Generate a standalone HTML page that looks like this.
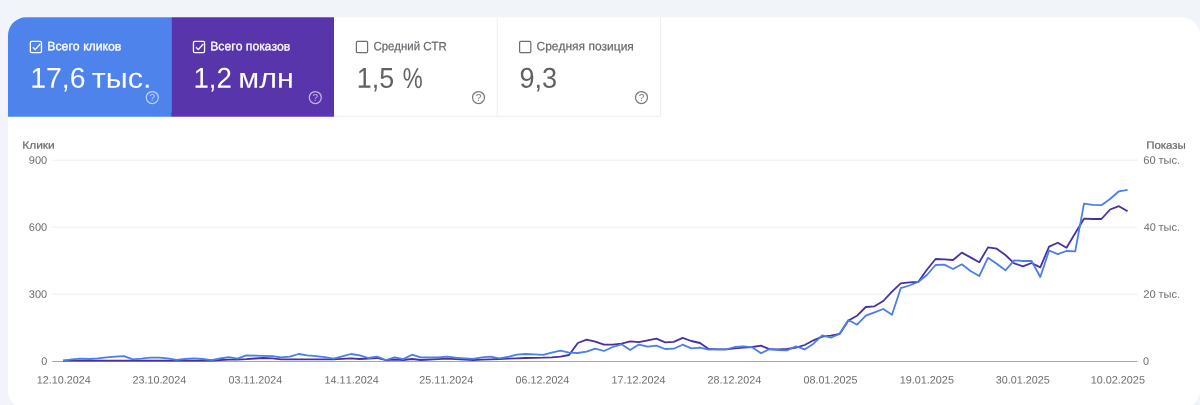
<!DOCTYPE html>
<html lang="ru"><head><meta charset="utf-8"><title>Эффективность</title>
<style>
html,body{margin:0;padding:0;background:#f1f4f8;overflow:hidden}
body{width:1200px;height:405px;position:relative;font-family:"Liberation Sans",sans-serif}
svg{position:absolute;left:0;top:0;display:block}
text{font-family:"Liberation Sans",sans-serif;font-kerning:none}
</style></head><body>
<svg width="1200" height="405" viewBox="0 0 1200 405">
<defs><clipPath id="card"><path d="M26,17.3 H1180.5 A20,20 0 0 1 1200.5,37.3 V388.5 A20,20 0 0 1 1180.5,408.5 H26 A18,18 0 0 1 8,390.5 V35.3 A18,18 0 0 1 26,17.3 Z"/></clipPath></defs>
<rect x="0" y="0" width="1200" height="405" fill="#f1f4f8"/>
<rect x="0" y="0" width="8" height="405" fill="#f3f4fb"/>
<path d="M26,17.3 H1180.5 A20,20 0 0 1 1200.5,37.3 V388.5 A20,20 0 0 1 1180.5,408.5 H26 A18,18 0 0 1 8,390.5 V35.3 A18,18 0 0 1 26,17.3 Z" fill="#ffffff"/>
<g clip-path="url(#card)">
<rect x="8" y="17" width="163.3" height="99.5" fill="#4f83ec"/>
<rect x="171.3" y="17" width="162.7" height="99.5" fill="#5835ab"/>
<rect x="8" y="112.8" width="163.3" height="3.7" fill="#4784f4"/>
<rect x="171.3" y="112.8" width="162.7" height="3.7" fill="#5a34bd"/>
</g>
<path d="M497.2,17.5 V116.3 M660.5,17.5 V116.3 M334,116.3 H660.9" fill="none" stroke="#eeeeee" stroke-width="1"/>

<rect x="30.35" y="41.45" width="11.10" height="11.10" rx="1.3" fill="none" stroke="#ffffff" stroke-width="1.3"/><path d="M32.90,47.30 l2.3,2.3 l5.0,-5.6" fill="none" stroke="#ffffff" stroke-width="1.25"/>
<rect x="193.45" y="41.45" width="11.10" height="11.10" rx="1.3" fill="none" stroke="#ffffff" stroke-width="1.3"/><path d="M196.00,47.30 l2.3,2.3 l5.0,-5.6" fill="none" stroke="#ffffff" stroke-width="1.25"/>
<rect x="356.40" y="41.40" width="11.20" height="11.20" rx="1.0" fill="none" stroke="#6e6e6e" stroke-width="1.2"/>
<rect x="519.60" y="41.40" width="11.20" height="11.20" rx="1.0" fill="none" stroke="#6e6e6e" stroke-width="1.2"/>
<text x="47.19" y="50.35" font-size="12.2" fill="#ffffff" textLength="74.14" lengthAdjust="spacingAndGlyphs" stroke="#ffffff" stroke-width="0.3" transform="rotate(0.03 47.19 50.35)">Всего кликов</text>
<text x="210.20" y="50.35" font-size="12.2" fill="#ffffff" textLength="80.08" lengthAdjust="spacingAndGlyphs" stroke="#ffffff" stroke-width="0.3" transform="rotate(0.03 210.20 50.35)">Всего показов</text>
<text x="373.42" y="50.35" font-size="12.2" fill="#64686c" textLength="73.36" lengthAdjust="spacingAndGlyphs" stroke="#64686c" stroke-width="0.22" transform="rotate(0.03 373.42 50.35)">Средний CTR</text>
<text x="536.49" y="50.35" font-size="12.2" fill="#64686c" textLength="97.34" lengthAdjust="spacingAndGlyphs" stroke="#64686c" stroke-width="0.22" transform="rotate(0.03 536.49 50.35)">Средняя позиция</text>
<text y="87.75" fill="#ffffff" transform="rotate(0.03 30.24 87.75)"><tspan x="30.24" font-size="28.7" textLength="55.31" lengthAdjust="spacingAndGlyphs">17,6</tspan> <tspan x="91.88" font-size="28.0" textLength="59.61" lengthAdjust="spacingAndGlyphs">тыс.</tspan></text>
<text y="87.75" fill="#ffffff" transform="rotate(0.03 193.39 87.75)"><tspan x="193.39" font-size="28.7" textLength="38.50" lengthAdjust="spacingAndGlyphs">1,2</tspan> <tspan x="238.39" font-size="28.0" textLength="55.41" lengthAdjust="spacingAndGlyphs">млн</tspan></text>
<text y="87.75" fill="#616161" transform="rotate(0.03 356.75 87.75)"><tspan x="356.75" font-size="28.7" textLength="37.38" lengthAdjust="spacingAndGlyphs">1,5</tspan> <tspan x="402.70" font-size="28.7" textLength="19.90" lengthAdjust="spacingAndGlyphs">%</tspan></text>
<text x="519.53" y="87.75" font-size="28.7" fill="#616161" textLength="37.66" lengthAdjust="spacingAndGlyphs" transform="rotate(0.03 519.53 87.75)">9,3</text>
<circle cx="152.3" cy="97.5" r="6.0" fill="none" stroke="#bcd0f8" stroke-width="1.25"/><text x="152.3" y="101.1" font-size="10" text-anchor="middle" fill="#bcd0f8" transform="rotate(0.03 152.3 97.5)">?</text>
<circle cx="315.3" cy="97.5" r="6.0" fill="none" stroke="#c3b5e6" stroke-width="1.25"/><text x="315.3" y="101.1" font-size="10" text-anchor="middle" fill="#c3b5e6" transform="rotate(0.03 315.3 97.5)">?</text>
<circle cx="478.5" cy="97.5" r="6.0" fill="none" stroke="#7a7a7a" stroke-width="1.25"/><text x="478.5" y="101.1" font-size="10" text-anchor="middle" fill="#7a7a7a" transform="rotate(0.03 478.5 97.5)">?</text>
<circle cx="641.5" cy="97.5" r="6.0" fill="none" stroke="#7a7a7a" stroke-width="1.25"/><text x="641.5" y="101.1" font-size="10" text-anchor="middle" fill="#7a7a7a" transform="rotate(0.03 641.5 97.5)">?</text>
<path d="M52.2,160.2 H1137.5" stroke="#eeeeee" stroke-width="1" fill="none"/>
<path d="M52.2,227.2 H1137.5" stroke="#eeeeee" stroke-width="1" fill="none"/>
<path d="M52.2,294.2 H1137.5" stroke="#eeeeee" stroke-width="1" fill="none"/>
<path d="M52.2,361.5 H1137.5" stroke="#a6a6a6" stroke-width="1" fill="none"/>
<text x="22.22" y="148.80" font-size="10.6" fill="#666a6e" textLength="32.51" lengthAdjust="spacingAndGlyphs" stroke="#666a6e" stroke-width="0.2" transform="rotate(0.03 22.22 148.80)">Клики</text>
<text x="1146.17" y="148.80" font-size="10.6" fill="#666a6e" textLength="39.73" lengthAdjust="spacingAndGlyphs" stroke="#666a6e" stroke-width="0.2" transform="rotate(0.03 1146.17 148.80)">Показы</text>
<text x="28.78" y="163.70" font-size="10.7" fill="#6e6e6e" textLength="18.45" lengthAdjust="spacingAndGlyphs" transform="rotate(0.03 28.78 163.70)">900</text>
<text x="28.74" y="230.70" font-size="10.7" fill="#6e6e6e" textLength="18.50" lengthAdjust="spacingAndGlyphs" transform="rotate(0.03 28.74 230.70)">600</text>
<text x="28.88" y="297.70" font-size="10.7" fill="#6e6e6e" textLength="18.35" lengthAdjust="spacingAndGlyphs" transform="rotate(0.03 28.88 297.70)">300</text>
<text x="41.38" y="364.70" font-size="10.7" fill="#6e6e6e" textLength="6.05" lengthAdjust="spacingAndGlyphs" transform="rotate(0.03 41.38 364.70)">0</text>
<text y="163.70" fill="#6e6e6e" transform="rotate(0.03 1143.33 163.70)"><tspan x="1143.33" font-size="10.7" textLength="12.51" lengthAdjust="spacingAndGlyphs">60</tspan> <tspan x="1158.41" font-size="10.5" textLength="21.70" lengthAdjust="spacingAndGlyphs">тыс.</tspan></text>
<text y="230.70" fill="#6e6e6e" transform="rotate(0.03 1143.65 230.70)"><tspan x="1143.65" font-size="10.7" textLength="12.18" lengthAdjust="spacingAndGlyphs">40</tspan> <tspan x="1158.41" font-size="10.5" textLength="21.70" lengthAdjust="spacingAndGlyphs">тыс.</tspan></text>
<text y="297.70" fill="#6e6e6e" transform="rotate(0.03 1143.33 297.70)"><tspan x="1143.33" font-size="10.7" textLength="12.50" lengthAdjust="spacingAndGlyphs">20</tspan> <tspan x="1158.41" font-size="10.5" textLength="21.70" lengthAdjust="spacingAndGlyphs">тыс.</tspan></text>
<text x="1143.08" y="364.70" font-size="10.7" fill="#6e6e6e" textLength="6.05" lengthAdjust="spacingAndGlyphs" transform="rotate(0.03 1143.08 364.70)">0</text>
<text x="36.68" y="383.60" font-size="10.7" fill="#6e6e6e" textLength="54.14" lengthAdjust="spacingAndGlyphs" transform="rotate(0.03 36.68 383.60)">12.10.2024</text>
<text x="132.46" y="383.60" font-size="10.7" fill="#6e6e6e" textLength="53.86" lengthAdjust="spacingAndGlyphs" transform="rotate(0.03 132.46 383.60)">23.10.2024</text>
<text x="228.48" y="383.60" font-size="10.7" fill="#6e6e6e" textLength="53.73" lengthAdjust="spacingAndGlyphs" transform="rotate(0.03 228.48 383.60)">03.11.2024</text>
<text x="324.58" y="383.60" font-size="10.7" fill="#6e6e6e" textLength="54.14" lengthAdjust="spacingAndGlyphs" transform="rotate(0.03 324.58 383.60)">14.11.2024</text>
<text x="419.36" y="383.60" font-size="10.7" fill="#6e6e6e" textLength="53.86" lengthAdjust="spacingAndGlyphs" transform="rotate(0.03 419.36 383.60)">25.11.2024</text>
<text x="515.58" y="383.60" font-size="10.7" fill="#6e6e6e" textLength="53.73" lengthAdjust="spacingAndGlyphs" transform="rotate(0.03 515.58 383.60)">06.12.2024</text>
<text x="611.48" y="383.60" font-size="10.7" fill="#6e6e6e" textLength="54.14" lengthAdjust="spacingAndGlyphs" transform="rotate(0.03 611.48 383.60)">17.12.2024</text>
<text x="707.46" y="383.60" font-size="10.7" fill="#6e6e6e" textLength="53.86" lengthAdjust="spacingAndGlyphs" transform="rotate(0.03 707.46 383.60)">28.12.2024</text>
<text x="803.58" y="383.60" font-size="10.7" fill="#6e6e6e" textLength="53.87" lengthAdjust="spacingAndGlyphs" transform="rotate(0.03 803.58 383.60)">08.01.2025</text>
<text x="899.67" y="383.60" font-size="10.7" fill="#6e6e6e" textLength="54.28" lengthAdjust="spacingAndGlyphs" transform="rotate(0.03 899.67 383.60)">19.01.2025</text>
<text x="995.89" y="383.60" font-size="10.7" fill="#6e6e6e" textLength="53.86" lengthAdjust="spacingAndGlyphs" transform="rotate(0.03 995.89 383.60)">30.01.2025</text>
<text x="1090.67" y="383.60" font-size="10.7" fill="#6e6e6e" textLength="54.28" lengthAdjust="spacingAndGlyphs" transform="rotate(0.03 1090.67 383.60)">10.02.2025</text>
<path d="M63.0,360.6 L71.7,360.6 L80.5,360.6 L89.2,360.6 L97.9,360.6 L106.6,360.6 L115.4,360.6 L124.1,360.6 L132.8,360.6 L141.5,360.6 L150.3,360.6 L159.0,360.6 L167.7,360.6 L176.4,360.6 L185.2,360.6 L193.9,360.6 L202.6,360.6 L211.3,360.6 L220.1,360.0 L228.8,359.7 L237.5,359.5 L246.3,359.2 L255.0,358.5 L263.7,358.0 L272.4,358.3 L281.2,359.3 L289.9,359.3 L298.6,359.3 L307.3,359.3 L316.1,359.3 L324.8,359.3 L333.5,359.3 L342.2,358.8 L351.0,358.4 L359.7,359.0 L368.4,358.5 L377.1,358.0 L385.9,360.2 L394.6,359.5 L403.3,360.0 L412.0,359.0 L420.8,360.0 L429.5,359.6 L438.2,359.2 L447.0,358.7 L455.7,359.2 L464.4,359.6 L473.1,360.0 L481.9,359.7 L490.6,359.3 L499.3,359.0 L508.0,358.7 L516.8,358.3 L525.5,358.0 L534.2,357.8 L542.9,357.7 L551.7,357.4 L560.4,356.6 L569.1,355.0 L577.8,343.0 L586.6,339.7 L595.3,341.7 L604.0,344.7 L612.8,344.7 L621.5,343.7 L630.2,341.4 L638.9,342.1 L647.7,340.3 L656.4,338.7 L665.1,342.3 L673.8,341.9 L682.6,337.9 L691.3,341.0 L700.0,343.0 L708.7,348.9 L717.5,349.4 L726.2,349.4 L734.9,348.3 L743.6,347.7 L752.4,347.0 L761.1,345.7 L769.8,349.4 L778.6,349.4 L787.3,349.0 L796.0,347.7 L804.7,345.0 L813.5,340.3 L822.2,336.7 L830.9,335.7 L839.6,334.0 L848.4,320.5 L857.1,315.7 L865.8,307.0 L874.5,306.3 L883.3,301.0 L892.0,291.7 L900.7,283.3 L909.4,282.3 L918.2,282.0 L926.9,269.7 L935.6,259.0 L944.3,259.4 L953.1,260.0 L961.8,252.6 L970.5,257.4 L979.3,262.3 L988.0,247.4 L996.7,248.7 L1005.4,255.0 L1014.2,263.3 L1022.9,266.3 L1031.6,263.0 L1040.3,267.4 L1049.1,246.6 L1057.8,242.7 L1066.5,247.7 L1075.2,233.3 L1084.0,218.7 L1092.7,219.0 L1101.4,219.0 L1110.1,209.5 L1118.9,206.2 L1127.6,211.3" fill="none" stroke="#4630a3" stroke-width="1.8" stroke-linejoin="round" stroke-linecap="butt"/>
<path d="M63.0,360.7 L71.7,359.4 L80.5,358.7 L89.2,359.0 L97.9,358.3 L106.6,357.4 L115.4,356.7 L124.1,356.1 L132.8,359.4 L141.5,358.7 L150.3,357.7 L159.0,357.7 L167.7,358.3 L176.4,359.9 L185.2,359.0 L193.9,358.3 L202.6,359.0 L211.3,360.1 L220.1,358.5 L228.8,357.2 L237.5,358.7 L246.3,355.3 L255.0,355.6 L263.7,355.8 L272.4,356.2 L281.2,357.3 L289.9,356.7 L298.6,354.0 L307.3,355.3 L316.1,356.2 L324.8,357.2 L333.5,358.7 L342.2,356.3 L351.0,354.0 L359.7,355.3 L368.4,358.0 L377.1,356.7 L385.9,360.0 L394.6,357.3 L403.3,359.1 L412.0,354.7 L420.8,357.3 L429.5,357.5 L438.2,357.5 L447.0,356.7 L455.7,357.7 L464.4,358.3 L473.1,358.9 L481.9,357.3 L490.6,356.7 L499.3,358.3 L508.0,357.0 L516.8,354.7 L525.5,354.0 L534.2,354.3 L542.9,354.8 L551.7,352.6 L560.4,350.6 L569.1,352.6 L577.8,353.0 L586.6,351.7 L595.3,348.7 L604.0,351.0 L612.8,347.0 L621.5,344.3 L630.2,350.0 L638.9,344.6 L647.7,346.6 L656.4,345.7 L665.1,349.0 L673.8,348.7 L682.6,344.7 L691.3,348.3 L700.0,347.7 L708.7,349.7 L717.5,349.4 L726.2,349.4 L734.9,347.0 L743.6,346.3 L752.4,347.4 L761.1,353.3 L769.8,349.0 L778.6,350.0 L787.3,350.3 L796.0,346.3 L804.7,349.4 L813.5,343.7 L822.2,335.4 L830.9,337.7 L839.6,333.7 L848.4,320.0 L857.1,324.7 L865.8,315.7 L874.5,312.3 L883.3,309.0 L892.0,314.7 L900.7,288.2 L909.4,285.5 L918.2,282.0 L926.9,275.0 L935.6,265.0 L944.3,264.6 L953.1,269.0 L961.8,264.3 L970.5,271.0 L979.3,276.0 L988.0,257.7 L996.7,263.7 L1005.4,270.3 L1014.2,260.3 L1022.9,261.0 L1031.6,261.0 L1040.3,277.0 L1049.1,250.5 L1057.8,254.2 L1066.5,251.0 L1075.2,251.3 L1084.0,203.6 L1092.7,204.8 L1101.4,205.2 L1110.1,199.0 L1118.9,191.3 L1127.6,189.9" fill="none" stroke="#4a7ee8" stroke-width="1.8" stroke-linejoin="round" stroke-linecap="butt"/>
</svg>
</body></html>
